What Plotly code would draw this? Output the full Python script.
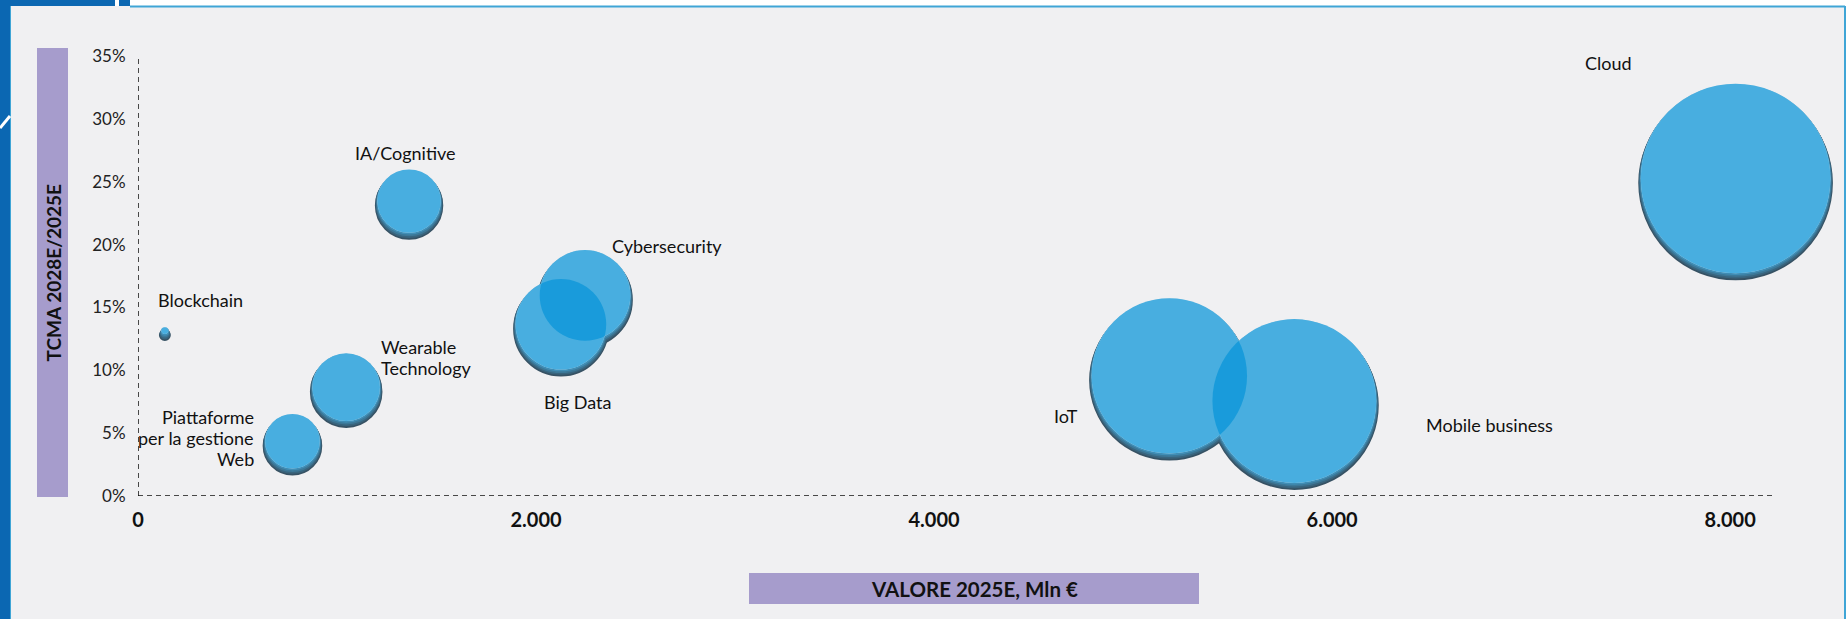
import math
import plotly.graph_objects as go

# ---------------- data ----------------
categorie = ["Blockchain", "Piattaforme per la gestione Web", "Wearable Technology",
             "IA/Cognitive", "Big Data", "Cybersecurity", "IoT", "Mobile business", "Cloud"]
etichette = ["Blockchain", "Piattaforme<br>per la gestione<br>Web", "Wearable<br>Technology",
             "IA/Cognitive", "Big Data", "Cybersecurity", "IoT", "Mobile business", "Cloud"]
valore_2025 = [135, 776, 1046, 1362, 2125, 2246, 5182, 5810, 8027]        # Mln €
tcma_2028_2025 = [0.128, 0.040, 0.083, 0.231, 0.133, 0.156, 0.092, 0.072, 0.249]
dimensione_bolla = [12, 745, 1142, 1005, 2052, 2052, 6037, 6708, 8987]
x_ticks = [0, 2000, 4000, 6000, 8000]
y_ticks = [0, 0.05, 0.10, 0.15, 0.20, 0.25, 0.30, 0.35]

# ---------------- styles ----------------
FW, FH = 1847, 619
ML, MR, MT, MB = 138, 75, 56, 123
PW, PH = FW - ML - MR, FH - MT - MB
X_MAX = 8210
Y_MAX = 0.35
BG = "#f0f0f2"
FONT = "Lato"
SH_A = 2.5      # inner-shadow rim (px)
SH_B = 4.5      # inner-shadow vertical offset (px)
SHADOW_COLORS = ["rgb(55,82,100)", "rgb(57,100,125)", "rgb(60,120,152)", "rgb(64,142,182)"]
LINE_GAP = 21

def px2x(p):
    return (p - ML) / PW

def py2y(p):
    return (FH - MB - p) / PH

def shift_range(px_up):
    d = px_up * Y_MAX / PH
    return [0 - d, Y_MAX - d]

label_style = [
    dict(xshift=36, yshift=35, xanchor="center"),
    dict(xshift=-36, yshift=8, xanchor="right"),
    dict(xshift=33, yshift=34, xanchor="left"),
    dict(xshift=-4, yshift=53, xanchor="center"),
    dict(xshift=17, yshift=-73, xanchor="center"),
    dict(xshift=82, yshift=54, xanchor="center"),
    dict(xshift=-103, yshift=-36, xanchor="center"),
    dict(xshift=195, yshift=-20, xanchor="center"),
    dict(xshift=-127, yshift=120, xanchor="center"),
]

fig = go.Figure()

common = dict(x=valore_2025, mode="markers", hoverinfo="skip", showlegend=False, cliponaxis=False)
mk = dict(size=dimensione_bolla, sizemode="area", sizeref=0.5, opacity=1)

K = len(SHADOW_COLORS)
layout_axes = {}
for k, col in enumerate(SHADOW_COLORS):
    t = k / K
    ax_id = k + 2
    layout_axes[f"yaxis{ax_id}"] = dict(range=shift_range(SH_B * t), overlaying="y",
                                       visible=False, fixedrange=True)
    fig.add_trace(go.Scatter(y=tcma_2028_2025, yaxis=f"y{ax_id}", **common,
                             marker=dict(**mk, color=col,
                                         line=dict(color=col, width=2 * SH_A * (1 - t)))))
top_id = K + 2
layout_axes[f"yaxis{top_id}"] = dict(range=shift_range(SH_B), overlaying="y", visible=False, fixedrange=True)
# background eraser
fig.add_trace(go.Scatter(y=tcma_2028_2025, yaxis=f"y{top_id}", **common,
                         marker=dict(**mk, color=BG, line=dict(width=0))))
# translucent blue bubble
fig.add_trace(go.Scatter(y=tcma_2028_2025, yaxis=f"y{top_id}", **common,
                         marker=dict(**mk, color="rgba(7,148,216,0.72)", line=dict(width=0))))

# bubble labels (one annotation per text line for tight line spacing)
for i, lab in enumerate(etichette):
    st = label_style[i]
    lines = lab.split("<br>")
    n = len(lines)
    for j, line in enumerate(lines):
        fig.add_annotation(x=valore_2025[i], y=tcma_2028_2025[i], xref="x", yref="y",
                           text=line, showarrow=False, xshift=st["xshift"],
                           yshift=st["yshift"] + ((n - 1) / 2 - j) * LINE_GAP,
                           xanchor=st["xanchor"], yanchor="middle",
                           font=dict(family=FONT, size=18, color="#111111"))

shapes = []
# dashed axes
shapes.append(dict(type="line", xref="x", yref="paper", x0=0, x1=0, y0=0, y1=1,
                   line=dict(color="#111111", width=1.5, dash="5px,4px"), layer="below"))
shapes.append(dict(type="line", xref="paper", yref="y", x0=0, x1=1, y0=0, y1=0,
                   line=dict(color="#111111", width=1.5, dash="5px,4px"), layer="below"))
# purple title boxes
shapes.append(dict(type="rect", xref="paper", yref="paper",
                   x0=px2x(37), x1=px2x(68), y0=py2y(497), y1=py2y(48),
                   fillcolor="#a69ccc", line=dict(width=0), layer="below"))
shapes.append(dict(type="rect", xref="paper", yref="paper",
                   x0=px2x(749), x1=px2x(1199), y0=py2y(604), y1=py2y(573),
                   fillcolor="#a69ccc", line=dict(width=0), layer="below"))
# frame decorations
DARK = "#0b67b2"
LIGHT = "#3fa5d6"
shapes += [
    dict(type="rect", xref="paper", yref="paper", x0=px2x(0), x1=px2x(10), y0=py2y(FH), y1=py2y(0),
         fillcolor=DARK, line=dict(width=0)),
    dict(type="rect", xref="paper", yref="paper", x0=px2x(10), x1=px2x(FW), y0=py2y(6), y1=py2y(0),
         fillcolor="white", line=dict(width=0)),
    dict(type="rect", xref="paper", yref="paper", x0=px2x(0), x1=px2x(115), y0=py2y(6), y1=py2y(0),
         fillcolor=DARK, line=dict(width=0)),
    dict(type="rect", xref="paper", yref="paper", x0=px2x(119), x1=px2x(130), y0=py2y(6), y1=py2y(0),
         fillcolor=DARK, line=dict(width=0)),
    dict(type="line", xref="paper", yref="paper", x0=px2x(130), x1=px2x(1845), y0=py2y(6.5), y1=py2y(6.5),
         line=dict(color=LIGHT, width=2)),
    dict(type="line", xref="paper", yref="paper", x0=px2x(1845), x1=px2x(1845), y0=py2y(6), y1=py2y(FH),
         line=dict(color=LIGHT, width=2)),
    dict(type="rect", xref="paper", yref="paper", x0=px2x(1846), x1=px2x(FW), y0=py2y(FH), y1=py2y(0),
         fillcolor="white", line=dict(width=0)),
    dict(type="line", xref="paper", yref="paper", x0=px2x(10.5), x1=px2x(10.5), y0=py2y(6), y1=py2y(FH),
         line=dict(color=LIGHT, width=1)),
    dict(type="line", xref="paper", yref="paper", x0=px2x(0), x1=px2x(10), y0=py2y(128), y1=py2y(116),
         line=dict(color="white", width=3)),
]

# axis titles
fig.add_annotation(xref="paper", yref="paper", x=px2x(974), y=py2y(588.5),
                   text="VALORE 2025E, Mln €", showarrow=False, xanchor="center", yanchor="middle",
                   font=dict(family=FONT, size=20.5, color="#111111", weight="bold"))
fig.add_annotation(xref="paper", yref="paper", x=px2x(52.5), y=py2y(273),
                   text="TCMA 2028E/2025E", showarrow=False, textangle=-90,
                   xanchor="center", yanchor="middle",
                   font=dict(family=FONT, size=19, color="#111111", weight="bold"))

fig.update_layout(
    width=FW, height=FH, autosize=False,
    margin=dict(l=ML, r=MR, t=MT, b=MB, pad=0),
    paper_bgcolor=BG, plot_bgcolor=BG,
    separators=",.",
    shapes=shapes,
    xaxis=dict(range=[0, X_MAX], tickvals=x_ticks, tickformat=",d",
               showgrid=False, zeroline=False, showline=False,
               ticks="outside", ticklen=6, tickcolor="rgba(0,0,0,0)",
               tickfont=dict(family=FONT, size=20, color="#111111", weight="bold"),
               fixedrange=True),
    yaxis=dict(range=[0, Y_MAX], tickvals=y_ticks, tickformat=".0%",
               showgrid=False, zeroline=False, showline=False,
               ticks="outside", ticklen=8, tickcolor="rgba(0,0,0,0)",
               tickfont=dict(family=FONT, size=17, color="#222222"),
               fixedrange=True),
    **layout_axes,
)

fig.write_html(
    "out.html",
    config={"displayModeBar": False},
    post_script="document.body.style.margin='0';document.body.style.overflow='hidden';"
                "document.documentElement.style.overflow='hidden';",
)
